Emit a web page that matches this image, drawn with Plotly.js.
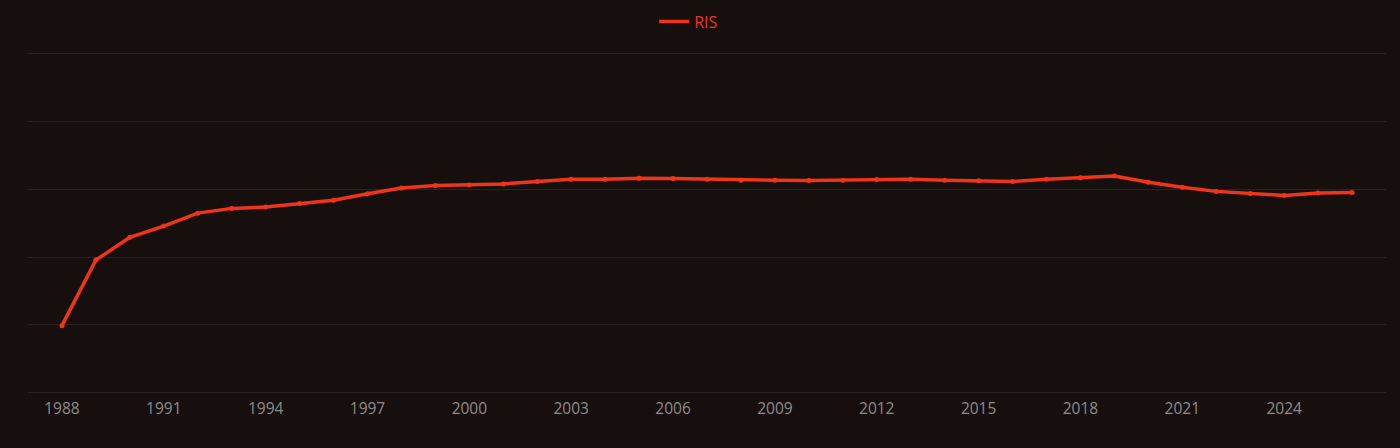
<!DOCTYPE html>
<html>
<head>
<meta charset="utf-8">
<script src="https://cdn.plot.ly/plotly-3.0.1.min.js"></script>
<style>html,body{margin:0;padding:0;background:#160f0e;}#chart{width:1400px;height:448px;}</style>
</head>
<body>
<div id="chart"></div>
<script>
const years = [1988,1989,1990,1991,1992,1993,1994,1995,1996,1997,1998,1999,2000,2001,2002,2003,2004,2005,2006,2007,2008,2009,2010,2011,2012,2013,2014,2015,2016,2017,2018,2019,2020,2021,2022,2023,2024,2025,2026];
const risValues = [19.8,39.1,45.8,49.1,52.9,54.3,54.7,55.7,56.7,58.6,60.3,61.0,61.2,61.5,62.2,62.9,62.9,63.2,63.1,62.9,62.6,62.6,62.5,62.6,62.8,62.9,62.6,62.4,62.2,62.9,63.3,63.8,62.0,60.5,59.3,58.7,58.1,58.8,59.0];
const seriesName = 'RIS';
const lineColor = '#ef3418';

const lineTrace = {
  x: years, y: risValues, name: seriesName,
  type: 'scatter', mode: 'lines',
  line: {color: lineColor, width: 3.5}
};
const markerTrace = {
  x: years, y: risValues, name: seriesName, showlegend: false,
  type: 'scatter', mode: 'markers',
  marker: {color: lineColor, size: 5}
};
const layout = {
  width: 1400, height: 448,
  paper_bgcolor: '#160f0e', plot_bgcolor: '#160f0e',
  margin: {l: 28, r: 14, t: 52, b: 54},
  font: {family: '"Open Sans", sans-serif', color: '#8f8b89', size: 15},
  showlegend: true,
  legend: {orientation: 'h', x: 0.4865, xanchor: 'center', y: 0.99, yanchor: 'top', yref: 'container', font: {color: lineColor, size: 16}},
  xaxis: {range: [1987, 2027], tick0: 1988, dtick: 3, showgrid: false, zeroline: false, showline: false, ticks: '', ticklabelstandoff: 3, tickfont: {size: 15.5, color: '#8f8b89'}},
  yaxis: {range: [-0.3, 100.3], tick0: 0, dtick: 20, showticklabels: false, gridcolor: '#2a2221', gridwidth: 1, zeroline: false, showline: false, ticks: ''},
  hovermode: false
};
Plotly.newPlot('chart', [lineTrace, markerTrace], layout, {displayModeBar: false, staticPlot: true});
</script>
</body>
</html>
